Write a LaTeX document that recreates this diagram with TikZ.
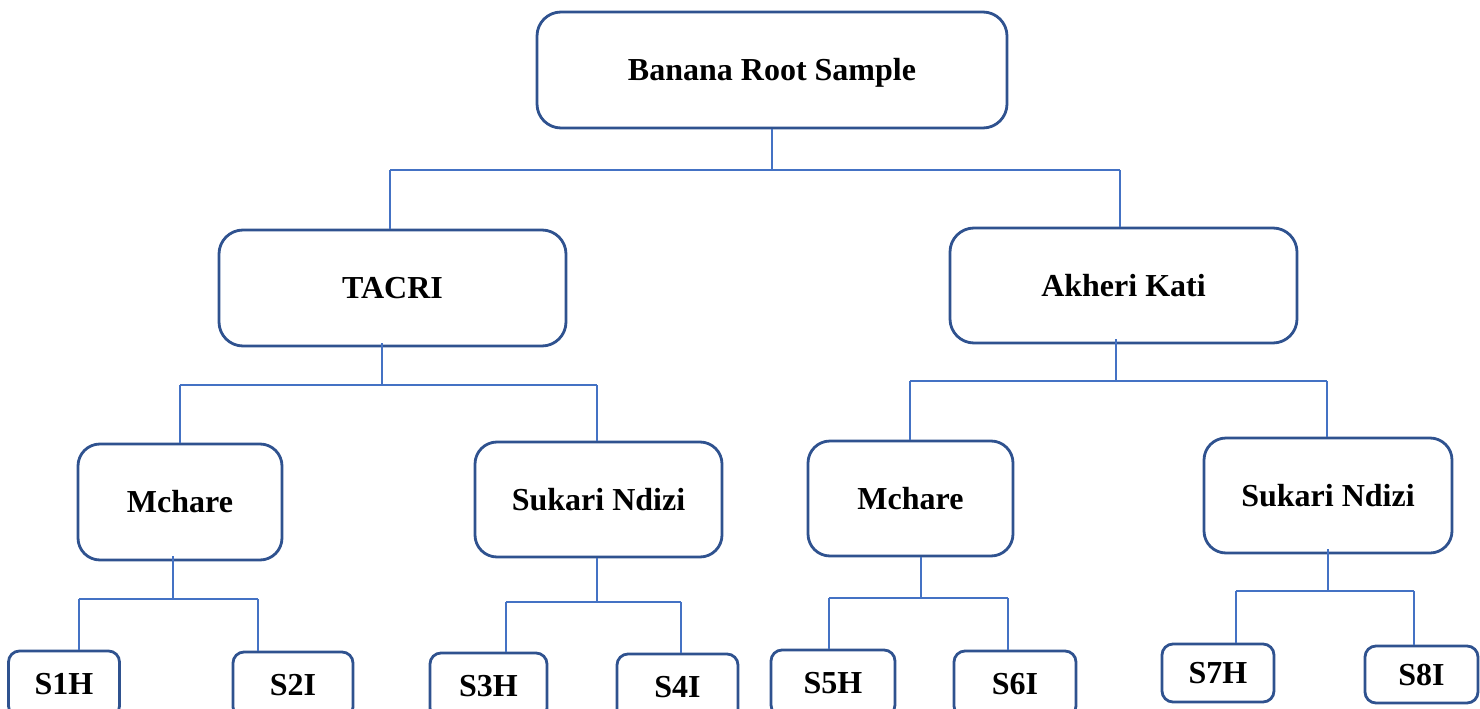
\documentclass[tikz,border=0pt]{standalone}
\usepackage{fontspec}
\setmainfont{Liberation Serif}
\definecolor{boxblue}{RGB}{47,82,143}
\definecolor{linkblue}{RGB}{68,114,196}
\begin{document}
\begin{tikzpicture}[x=1pt,y=-1pt,
  box/.style={draw=boxblue, line width=2.8pt, fill=white, rounded corners=#1,
    inner sep=0pt, font=\fontsize{32}{38}\selectfont\bfseries,
    text height=21pt, text depth=0pt, align=center},
  box/.default=22pt,
  stem/.style={draw=linkblue, line width=2.2pt},
  link/.style={draw=linkblue, line width=1.6pt}]
\useasboundingbox (0,0) rectangle (1480,709);
\clip (0,0) rectangle (1480,709);
% nodes
\node[box=24pt, minimum width=470pt, minimum height=116pt] (root) at (772,70) {Banana Root Sample};
\node[box=24pt, minimum width=347pt, minimum height=116pt] (tacri) at (392.5,288) {TACRI};
\node[box=24pt, minimum width=347pt, minimum height=115pt] (akheri) at (1123.5,285.5) {Akheri Kati};
\node[box, minimum width=204pt, minimum height=116pt] (mcl) at (180,502) {Mchare};
\node[box, minimum width=247pt, minimum height=115pt] (sul) at (598.5,499.5) {Sukari Ndizi};
\node[box, minimum width=205pt, minimum height=115pt] (mcr) at (910.5,498.5) {Mchare};
\node[box, minimum width=248pt, minimum height=115pt] (sur) at (1328,495.5) {Sukari Ndizi};
\node[box=11pt, minimum width=111pt, minimum height=66pt] (s1h) at (64,684) {S1H};
\node[box=11pt, minimum width=120pt, minimum height=66pt] (s2i) at (293,685) {S2I};
\node[box=11pt, minimum width=117pt, minimum height=66pt] (s3h) at (488.5,686) {S3H};
\node[box=11pt, minimum width=121pt, minimum height=66pt] (s4i) at (677.5,687) {S4I};
\node[box=11pt, minimum width=124pt, minimum height=66pt] (s5h) at (833,683) {S5H};
\node[box=11pt, minimum width=122pt, minimum height=66pt] (s6i) at (1015,684) {S6I};
\node[box=11pt, minimum width=112pt, minimum height=58pt] (s7h) at (1218,673) {S7H};
\node[box=11pt, minimum width=113pt, minimum height=57pt] (s8i) at (1421.5,674.5) {S8I};
% bus coordinates
\coordinate (j0) at (772,170);  \coordinate (b0l) at (390,170);  \coordinate (b0r) at (1120,170);
\coordinate (j1) at (382,385);  \coordinate (b1l) at (180,385);  \coordinate (b1r) at (597,385);
\coordinate (j2) at (1116,381); \coordinate (b2l) at (910,381);  \coordinate (b2r) at (1327,381);
\coordinate (j3) at (173,599);  \coordinate (b3l) at (79,599);   \coordinate (b3r) at (258,599);
\coordinate (j4) at (597,602);  \coordinate (b4l) at (506,602);  \coordinate (b4r) at (681,602);
\coordinate (j5) at (921,598);  \coordinate (b5l) at (829,598);  \coordinate (b5r) at (1008,598);
\coordinate (j6) at (1328,591); \coordinate (b6l) at (1236,591); \coordinate (b6r) at (1414,591);
% connectors
\draw[stem] (root.south) -- (j0);
\draw[link] (b0l) -- (b0r);
\draw[link] (b0l) -- (b0l |- tacri.north);
\draw[link] (b0r) -- (b0r |- akheri.north);
\draw[stem] ([yshift=4pt]tacri.south -| j1) -- (j1);
\draw[link] (b1l) -- (b1r);
\draw[link] (b1l) -- (b1l |- mcl.north);
\draw[link] (b1r) -- (b1r |- sul.north);
\draw[stem] ([yshift=5pt]akheri.south -| j2) -- (j2);
\draw[link] (b2l) -- (b2r);
\draw[link] (b2l) -- (b2l |- mcr.north);
\draw[link] (b2r) -- (b2r |- sur.north);
\draw[stem] ([yshift=5pt]mcl.south -| j3) -- (j3);
\draw[link] (b3l) -- (b3r);
\draw[link] (b3l) -- (b3l |- s1h.north);
\draw[link] (b3r) -- (b3r |- s2i.north);
\draw[stem] (sul.south -| j4) -- (j4);
\draw[link] (b4l) -- (b4r);
\draw[link] (b4l) -- (b4l |- s3h.north);
\draw[link] (b4r) -- (b4r |- s4i.north);
\draw[stem] (mcr.south -| j5) -- (j5);
\draw[link] (b5l) -- (b5r);
\draw[link] (b5l) -- (b5l |- s5h.north);
\draw[link] (b5r) -- (b5r |- s6i.north);
\draw[stem] ([yshift=5pt]sur.south -| j6) -- (j6);
\draw[link] (b6l) -- (b6r);
\draw[link] (b6l) -- (b6l |- s7h.north);
\draw[link] (b6r) -- (b6r |- s8i.north);
\end{tikzpicture}
\end{document}
